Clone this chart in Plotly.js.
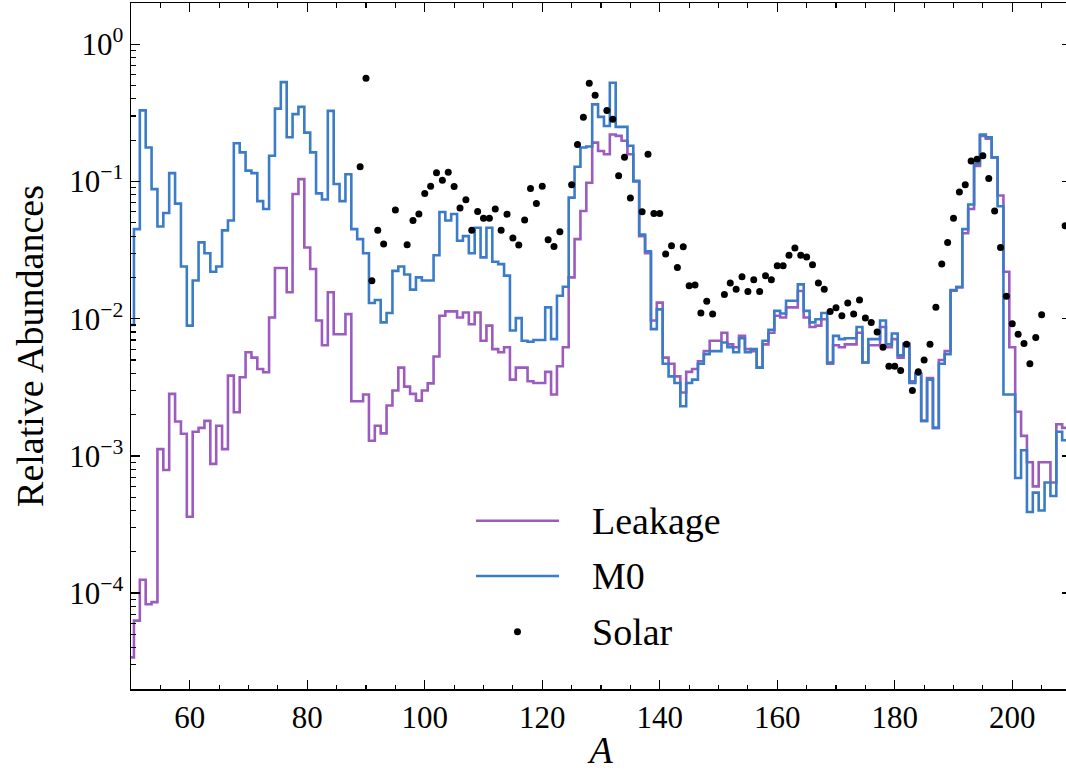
<!DOCTYPE html>
<html><head><meta charset="utf-8">
<script src="https://cdn.plot.ly/plotly-3.0.1.min.js"></script>
<style>html,body{margin:0;padding:0;overflow:hidden;background:#fff}</style>
</head><body><div id="chart"></div>
<script>
// Mass number A (one bin per integer A)
const massNumber = [50,51,52,53,54,55,56,57,58,59,60,61,62,63,64,65,66,67,68,69,70,71,72,73,74,75,76,77,78,79,80,81,82,83,84,85,86,87,88,89,90,91,92,93,94,95,96,97,98,99,100,101,102,103,104,105,106,107,108,109,110,111,112,113,114,115,116,117,118,119,120,121,122,123,124,125,126,127,128,129,130,131,132,133,134,135,136,137,138,139,140,141,142,143,144,145,146,147,148,149,150,151,152,153,154,155,156,157,158,159,160,161,162,163,164,165,166,167,168,169,170,171,172,173,174,175,176,177,178,179,180,181,182,183,184,185,186,187,188,189,190,191,192,193,194,195,196,197,198,199,200,201,202,203,204,205,206,207,208,209,210];

// Leakage model abundances
const leakage = [3.4e-5,6.3e-5,1.25e-4,8.3e-5,8.6e-5,1.12e-3,7.9e-4,2.83e-3,1.78e-3,1.45e-3,
3.6e-4,1.5e-3,1.6e-3,1.8e-3,8.75e-4,1.66e-3,1.12e-3,3.85e-3,2.08e-3,3.74e-3,
5.7e-3,5.2e-3,4.3e-3,4.07e-3,0.0102,0.0234,0.0234,0.0156,0.081,0.104,
0.033,0.023,0.0097,0.0064,0.0156,0.0077,0.0077,0.0108,0.0025,0.0025,
0.0028,0.00129,0.00166,0.00146,0.00233,0.0030,0.0044,0.0032,0.00283,0.00253,
0.0030,0.00338,0.0053,0.0105,0.0113,0.0113,0.0102,0.0111,0.0091,0.0111,
0.0069,0.0089,0.0060,0.0057,0.0062,0.0036,0.0044,0.0044,0.0035,0.0034,
0.0034,0.0041,0.0028,0.0045,0.0062,0.020,0.038,0.061,0.098,0.192,
0.167,0.158,0.22,0.215,0.198,0.158,0.100,0.040,0.030,0.0097,
0.0131,0.0052,0.0047,0.0038,0.0029,0.0041,0.0043,0.0049,0.0058,0.0069,
0.0069,0.0079,0.0065,0.0062,0.0075,0.0060,0.0058,0.0044,0.0065,0.0079,
0.0105,0.0102,0.0121,0.0121,0.0159,0.0102,0.0087,0.0089,0.0099,0.0047,
0.0064,0.0062,0.0065,0.0065,0.0079,0.0048,0.0064,0.0064,0.0087,0.0062,
0.0071,0.0052,0.0066,0.0035,0.0040,0.0018,0.0037,0.0016,0.0050,0.0058,
0.016,0.017,0.042,0.063,0.13,0.215,0.205,0.15,0.079,0.022,
0.0062,0.0021,0.0014,0.0009,0.0006,0.0009,0.0009,0.00064,0.0017,0.0016,0.0016];

// M0 model abundances
const m0 = [0.009,0.045,0.33,0.177,0.088,0.047,0.059,0.115,0.069,0.024,
0.0089,0.019,0.036,0.030,0.022,0.024,0.044,0.052,0.19,0.163,
0.12,0.115,0.072,0.063,0.154,0.34,0.53,0.21,0.31,0.35,
0.227,0.163,0.082,0.074,0.327,0.096,0.072,0.113,0.045,0.038,
0.030,0.013,0.0137,0.0094,0.011,0.0223,0.024,0.021,0.0163,0.020,
0.019,0.019,0.029,0.060,0.052,0.058,0.037,0.040,0.030,0.046,
0.028,0.046,0.026,0.025,0.0206,0.0082,0.0101,0.0069,0.0068,0.0070,
0.0070,0.0121,0.0071,0.0147,0.0171,0.0763,0.128,0.177,0.180,0.365,
0.296,0.254,0.525,0.25,0.25,0.182,0.101,0.041,0.031,0.0084,
0.0117,0.0047,0.0038,0.0034,0.0023,0.0034,0.0036,0.0047,0.0055,0.0058,
0.0058,0.0067,0.0062,0.0057,0.0072,0.0057,0.0060,0.0044,0.0069,0.0083,
0.0114,0.0109,0.0135,0.0135,0.0178,0.0114,0.0094,0.0099,0.011,0.0048,
0.0075,0.0071,0.0072,0.0072,0.0087,0.0048,0.0071,0.0071,0.0097,0.0065,
0.0078,0.0054,0.0065,0.0034,0.0039,0.0018,0.0036,0.0016,0.0047,0.0055,
0.0162,0.017,0.045,0.068,0.134,0.22,0.21,0.15,0.066,0.0028,
0.0028,0.00069,0.0011,0.00039,0.00054,0.00040,0.00064,0.00051,0.0015,0.0013,0.0013];

// Solar r-process abundances
const solarA = [89,90,91,92,93,95,97,98,99,100,101,102,103,104,105,106,107,108,109,110,111,112,113,114,115,116,117,118,119,120,121,122,123,125,126,127,128,129,131,132,133,134,135,137,138,139,140,141,142,143,144,145,146,147,148,149,151,152,153,154,155,156,157,158,159,160,161,162,163,164,165,166,167,168,169,170,171,172,173,174,175,176,177,178,179,180,181,182,183,184,185,186,187,188,189,190,191,192,193,194,195,196,197,198,199,200,201,202,203,204,205,209];
const solarAbund = [0.128,0.565,0.0189,0.0442,0.035,0.062,0.0346,0.052,0.058,0.0817,0.0924,0.1157,0.102,0.117,0.092,0.064,0.0735,0.0442,0.0604,0.054,0.054,0.063,0.0442,0.0578,0.0387,0.0344,0.0523,0.0889,0.069,0.0924,0.0376,0.0336,0.043,0.0945,0.186,0.294,0.52,0.425,0.329,0.284,0.11,0.150,0.0757,0.0601,0.158,0.0584,0.0584,0.0296,0.034,0.0236,0.0334,0.0174,0.0176,0.011,0.0134,0.0108,0.015,0.0182,0.0164,0.0202,0.0158,0.0192,0.0158,0.0206,0.0192,0.0243,0.0243,0.029,0.0327,0.029,0.0282,0.0247,0.0182,0.0164,0.0113,0.012,0.0105,0.013,0.0108,0.0137,0.0101,0.0094,0.008,0.0062,0.0045,0.0045,0.0042,0.0065,0.003,0.0041,0.005,0.0065,0.0121,0.025,0.036,0.054,0.084,0.0945,0.141,0.145,0.154,0.105,0.061,0.033,0.0146,0.0092,0.0077,0.0066,0.0047,0.0073,0.0107,0.0475];

const seriesNames = ['Leakage','M0','Solar'];
const seriesColors = ['#9b5bbf','#3a7cc7','#000000'];
const yTickVals = [1e-4,1e-3,1e-2,1e-1,1];
const yTickText = ['10<sup>\u22124</sup>','10<sup>\u22123</sup>','10<sup>\u22122</sup>','10<sup>\u22121</sup>','10<sup>0</sup>'];

const yMinor = [];
for (let e = -5; e <= 0; e++) for (let d = 2; d <= 9; d++) yMinor.push(d * Math.pow(10, e));

const FONT = 'Liberation Serif';

const traces = [
  {x: massNumber, y: leakage, type:'scatter', mode:'lines', name: seriesNames[0],
   line:{shape:'hvh', color: seriesColors[0], width:2.6}},
  {x: massNumber, y: m0, type:'scatter', mode:'lines', name: seriesNames[1],
   line:{shape:'hvh', color: seriesColors[1], width:2.6}},
  {x: solarA, y: solarAbund, type:'scatter', mode:'markers', name: seriesNames[2],
   marker:{color: seriesColors[2], size:7}}
];

// Legend (drawn in paper coordinates)
const legX0 = 0.367, legX1 = 0.4553, legTextX = 0.4883;
const legY = [0.2453, 0.1647, 0.0835];

const layout = {
  width: 1072, height: 771,
  margin: {l:131, r:1, t:3, b:82},
  paper_bgcolor:'#ffffff', plot_bgcolor:'#ffffff',
  showlegend:false,
  font:{family: FONT, color:'#000', size:31},
  xaxis:{
    range:[50,210], tick0:0, dtick:20,
    ticks:'inside', ticklen:9, tickwidth:1.3, tickcolor:'#000',
    showline:true, linecolor:'#000', linewidth:1.5, mirror:'ticks',
    showgrid:false, zeroline:false,
    tickfont:{size:31, family: FONT, color:'#000'},
    minor:{tick0:0, dtick:5, ticks:'inside', ticklen:4.5, tickwidth:1.1, tickcolor:'#000', showgrid:false},
    title:{text:'<i>A</i>', font:{size:38, family: FONT, color:'#000'}, standoff:6}
  },
  yaxis:{
    type:'log', range:[Math.log10(2e-5), Math.log10(2)],
    tickmode:'array', tickvals: yTickVals, ticktext: yTickText,
    ticks:'inside', ticklen:9, tickwidth:1.3, tickcolor:'#000',
    showline:true, linecolor:'#000', linewidth:1.5, mirror:'ticks',
    showgrid:false, zeroline:false,
    tickfont:{size:31, family: FONT, color:'#000'},
    minor:{tickmode:'array', tickvals: yMinor, ticks:'inside', ticklen:4.5, tickwidth:1.1, tickcolor:'#000', showgrid:false},
    title:{text:'Relative Abundances', font:{size:38, family: FONT, color:'#000'}, standoff:14}
  },
  shapes:[
    {type:'line', xref:'paper', yref:'paper', x0:legX0, x1:legX1, y0:legY[0], y1:legY[0], line:{color:seriesColors[0], width:2.6}},
    {type:'line', xref:'paper', yref:'paper', x0:legX0, x1:legX1, y0:legY[1], y1:legY[1], line:{color:seriesColors[1], width:2.6}},
    {type:'circle', xref:'paper', yref:'paper', xsizemode:'pixel', ysizemode:'pixel',
     xanchor:(legX0+legX1)/2, yanchor:legY[2], x0:-3.5, x1:3.5, y0:-3.5, y1:3.5,
     fillcolor:'#000', line:{width:0}}
  ],
  annotations: seriesNames.map((n,i)=>({
    xref:'paper', yref:'paper', x:legTextX, y:legY[i], xanchor:'left', yanchor:'middle',
    text:n, showarrow:false, font:{size:38, family: FONT, color:'#000'}
  }))
};

Plotly.newPlot('chart', traces, layout, {staticPlot:true, displayModeBar:false});
</script>
</body></html>
